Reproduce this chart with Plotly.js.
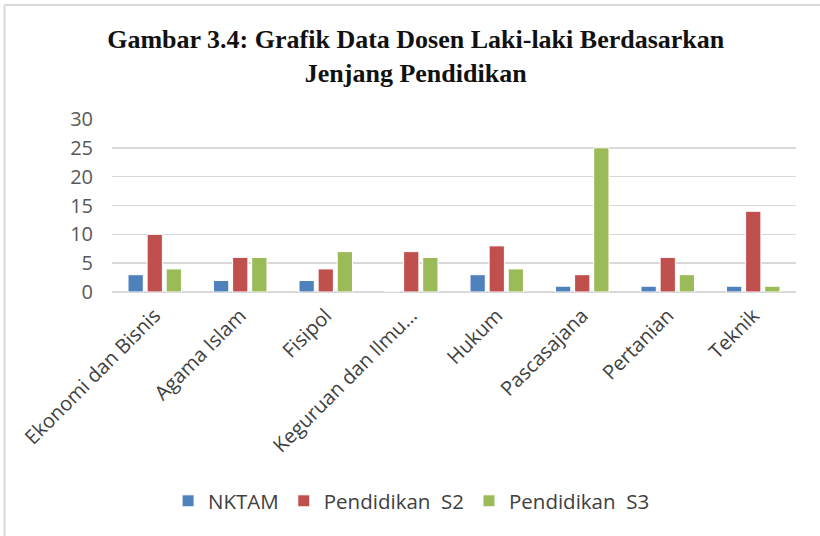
<!DOCTYPE html>
<html>
<head>
<meta charset="utf-8">
<script src="https://cdn.plot.ly/plotly-3.0.1.min.js"></script>
<style>
html,body{margin:0;padding:0;background:#fff;}
#chart{width:820px;height:536px;}
</style>
</head>
<body>
<div id="chart"></div>
<script>
const categories = ["Ekonomi dan Bisnis","Agama Islam","Fisipol","Keguruan dan Ilmu…","Hukum","Pascasajana","Pertanian","Teknik"];
const seriesNames = ["NKTAM","Pendidikan  S2","Pendidikan  S3"];
const nktam = [3,2,2,0,3,1,1,1];
const s2 = [10,6,4,7,8,3,6,14];
const s3 = [4,6,7,6,4,25,3,1];
const yTicks = [0,5,10,15,20,25,30];
const colors = ["#4f81bd","#c0504d","#9bbb59"];

const allValues = [nktam, s2, s3];
const traces = allValues.map((vals, i) => ({
  type: "bar",
  name: seriesNames[i],
  x: categories,
  y: vals,
  marker: {color: colors[i], line: {color: "#ffffff", width: 1}},
  hoverinfo: "x+y+name"
}));

const layout = {
  width: 820,
  height: 536,
  margin: {l: 112, r: 24, t: 119, b: 244, pad: 0},
  paper_bgcolor: "#ffffff",
  plot_bgcolor: "#ffffff",
  title: {
    text: "Gambar 3.4: Grafik Data Dosen Laki-laki Berdasarkan<br>Jenjang Pendidikan",
    font: {family: "Liberation Serif, Times New Roman, serif", size: 26, color: "#111111", weight: "bold"},
    xref: "container", x: 0.507, xanchor: "center",
    yref: "container", y: 1 - 48/536, yanchor: "top"
  },
  barmode: "group",
  bargap: 0.33,
  bargroupgap: 0.2,
  xaxis: {
    type: "category",
    tickangle: -45,
    tickfont: {family: "Open Sans, sans-serif", size: 20, color: "#404040"},
    showgrid: false,
    showline: false,
    ticks: "",
    ticklabelstandoff: 7
  },
  yaxis: {
    range: [0, 30],
    tickvals: yTicks,
    tickfont: {family: "Open Sans, sans-serif", size: 20, color: "#595959"},
    showgrid: true,
    gridcolor: "#d9d9d9",
    gridwidth: 1.5,
    zeroline: true,
    zerolinecolor: "#d9d9d9",
    zerolinewidth: 1.5,
    showline: false,
    ticks: "",
    ticklabelstandoff: 18
  },
  showlegend: true,
  legend: {
    orientation: "h",
    x: 0.438, xanchor: "center",
    y: -1.208, yanchor: "middle",
    font: {family: "Open Sans, sans-serif", size: 20.5, color: "#404040"},
    bgcolor: "rgba(0,0,0,0)"
  },
  shapes: [
    {type: "line", xref: "paper", yref: "paper", x0: (4.5-112)/684, x1: (4.5-112)/684, y0: (292-5)/173, y1: (292-540)/173, line: {color: "#d9d9d9", width: 2}},
    {type: "line", xref: "paper", yref: "paper", x0: (4.5-112)/684, x1: (830-112)/684, y0: (292-5)/173, y1: (292-5)/173, line: {color: "#d9d9d9", width: 2}}
  ]
};

Plotly.newPlot("chart", traces, layout, {displayModeBar: false, staticPlot: true});
</script>
</body>
</html>
